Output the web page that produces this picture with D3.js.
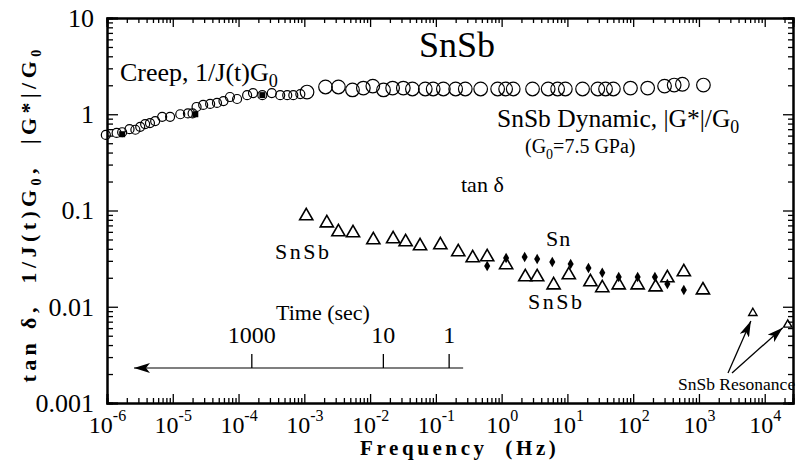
<!DOCTYPE html>
<html>
<head>
<meta charset="utf-8">
<script src="https://cdn.jsdelivr.net/npm/d3@7.9.0/dist/d3.min.js"></script>
<style>
  body { margin: 0; background: #fff; }
  svg text { font-family: "Liberation Serif", "Times New Roman", serif; fill: #000; }
</style>
</head>
<body>
<svg id="chart" width="797" height="462"></svg>
<script>
// creep data, 1/J(t)G0 (small open circles)
const creepFreq = [9.6e-7, 1.4e-6, 1.7e-6, 2.2e-6, 2.7e-6, 3.2e-6, 3.8e-6, 4.5e-6, 5.4e-6, 6.9e-6,
  9.1e-6, 1.3e-5, 1.7e-5, 2.0e-5, 2.3e-5, 2.9e-5, 3.7e-5, 4.7e-5, 5.9e-5, 7.4e-5,
  9.5e-5, 1.35e-4, 1.66e-4, 2.3e-4, 3.2e-4, 4.3e-4, 5.5e-4, 6.8e-4, 8.7e-4];
const creepVal = [0.61, 0.64, 0.65, 0.70, 0.69, 0.74, 0.79, 0.81, 0.85, 0.94,
  0.94, 1.00, 1.02, 1.02, 1.19, 1.25, 1.28, 1.31, 1.37, 1.51,
  1.44, 1.58, 1.66, 1.58, 1.66, 1.58, 1.58, 1.58, 1.62];
// second creep run (filled)
const creep2Freq = [1.7e-6, 2.2e-5, 2.3e-4];
const creep2Val = [0.62, 1.0, 1.58];

// dynamic |G*|/G0 (large open circles)
const dynFreq = [1.1e-3, 2.1e-3, 3.3e-3, 5.4e-3, 7.9e-3, 0.011, 0.016, 0.022, 0.032, 0.044,
  0.069, 0.091, 0.13, 0.20, 0.28, 0.48, 0.87, 1.15, 1.5, 2.95, 5.1, 7.1, 9.3, 17, 29, 38, 50, 91, 166,
  300, 420, 560, 1170];
const dynVal = [1.70, 1.92, 1.92, 1.79, 1.87, 1.96, 1.79, 1.87, 1.87, 1.83,
  1.83, 1.83, 1.83, 1.83, 1.83, 1.83, 1.83, 1.83, 1.83, 1.83, 1.83, 1.83, 1.83, 1.83, 1.83, 1.83, 1.83, 1.87, 1.87,
  1.96, 2.01, 2.05, 2.01];

// tan delta, SnSb (open triangles)
const tanSbFreq = [1.07e-3, 2.2e-3, 3.3e-3, 5.5e-3, 0.0112, 0.0224, 0.0347, 0.0575, 0.117, 0.219,
  0.363, 0.603, 1.17, 2.29, 3.47, 6.17, 10.5, 22.4, 33.9, 60.3, 117, 219, 331, 589, 1150];
const tanSbVal = [0.0877, 0.0741, 0.0598, 0.0584, 0.0494, 0.0506, 0.0471, 0.0428, 0.0438, 0.0371,
  0.0321, 0.0329, 0.0272, 0.0204, 0.0204, 0.0168, 0.0214, 0.0181, 0.0157, 0.0168, 0.0168, 0.016, 0.0199, 0.023, 0.0149];

// tan delta, Sn (filled diamonds)
const tanSnFreq = [0.603, 1.17, 2.24, 3.47, 5.89, 11.2, 20.9, 33.9, 60.3, 117, 214, 331, 589];
const tanSnVal = [0.0265, 0.0321, 0.0329, 0.0313, 0.0292, 0.0278, 0.0253, 0.0225, 0.0204, 0.0204, 0.0204, 0.0172, 0.0149];

// resonance points, SnSb
const resFreq = [6600, 22400];
const resVal = [0.0086, 0.0065];

// time axis (sec), drawn at f = 1/(2 pi t)
const timeTicks = [1000, 10, 1];

const xMajor = [1e-6, 1e-5, 1e-4, 1e-3, 1e-2, 1e-1, 1, 10, 100, 1000, 10000];
const yMajor = [0.001, 0.01, 0.1, 1, 10];
const yLabels = ["0.001", "0.01", "0.1", "1", "10"];

const W = 797, H = 462;
const m = { left: 107, right: 4, top: 18, bottom: 59 };
const svg = d3.select("#chart");

const x = d3.scaleLog().domain([1e-6, Math.pow(10, 4.43)]).range([m.left, W - m.right]);
const y = d3.scaleLog().domain([0.001, 10]).range([H - m.bottom, m.top]);

// minor tick values
function minors(lo, hi, domainMax) {
  const out = [];
  for (let e = lo; e <= hi; e++) {
    for (let k = 2; k <= 9; k++) {
      const v = k * Math.pow(10, e);
      if (v < domainMax) out.push(v);
    }
  }
  return out;
}
const xMinor = minors(-6, 4, x.domain()[1]);
const yMinor = minors(-3, 0, 10);

const gB = svg.append("g").attr("transform", `translate(0,${y.range()[0]})`);
const gT = svg.append("g").attr("transform", `translate(0,${m.top})`);
const gL = svg.append("g").attr("transform", `translate(${m.left},0)`);
const gR = svg.append("g").attr("transform", `translate(${x.range()[1]},0)`);

gB.call(d3.axisBottom(x).tickValues(xMinor).tickSize(-5).tickFormat(""));
const gBMaj = gB.append("g").call(d3.axisBottom(x).tickValues(xMajor).tickSize(-9).tickPadding(10).tickFormat(""));
gT.call(d3.axisTop(x).tickValues(xMinor).tickSize(-5).tickFormat(""));
gT.append("g").call(d3.axisTop(x).tickValues(xMajor).tickSize(-9).tickFormat(""));
gL.call(d3.axisLeft(y).tickValues(yMinor).tickSize(-6).tickFormat(""));
const gLMaj = gL.append("g").call(d3.axisLeft(y).tickValues(yMajor).tickSize(-11).tickPadding(13)
  .tickFormat((d, i) => yLabels[i]));
gR.call(d3.axisRight(y).tickValues(yMinor).tickSize(-5).tickFormat(""));
gR.append("g").call(d3.axisRight(y).tickValues(yMajor).tickSize(-10).tickFormat(""));

svg.selectAll(".domain").attr("stroke", "#000").attr("stroke-width", 2);
svg.selectAll(".tick line").attr("stroke", "#000").attr("stroke-width", 1.3);
gLMaj.selectAll(".tick text").attr("font-size", 26);

// x tick labels as powers of ten
gBMaj.selectAll(".tick").each(function(d) {
  const e = Math.round(Math.log10(d));
  const t = d3.select(this).select("text")
    .attr("font-size", 24).attr("dy", "0.85em").text("10");
  t.append("tspan").attr("font-size", 16).attr("dy", "-0.8em").text(e);
});

// axis titles
svg.append("text")
  .attr("x", 360).attr("y", 455)
  .attr("font-size", 21).attr("font-weight", "bold").attr("letter-spacing", 3.6)
  .attr("xml:space", "preserve").text("Frequency  (Hz)");

const yt = svg.append("text")
  .attr("transform", "translate(36,214) rotate(-90)")
  .attr("text-anchor", "middle").attr("font-size", 22).attr("font-weight", "bold")
  .attr("letter-spacing", 4.4).attr("xml:space", "preserve");
yt.append("tspan").text("tan δ,  1/J(t)G");
yt.append("tspan").attr("font-size", 14).attr("dy", 5).text("0");
yt.append("tspan").attr("dy", -5).text(",  |G*|/G");
yt.append("tspan").attr("font-size", 14).attr("dy", 5).text("0");

// data marks
const triangle = d3.symbol().type(d3.symbolTriangle);

svg.append("g").selectAll("circle").data(creepFreq).join("circle")
  .attr("cx", d => x(d)).attr("cy", (d, i) => y(creepVal[i])).attr("r", 4.5)
  .attr("fill", "none").attr("stroke", "#000").attr("stroke-width", 1.2);

svg.append("g").selectAll("rect").data(creep2Freq).join("rect")
  .attr("x", d => x(d) - 3).attr("y", (d, i) => y(creep2Val[i]) - 3)
  .attr("width", 6).attr("height", 6).attr("fill", "#000");

svg.append("g").selectAll("circle").data(dynFreq).join("circle")
  .attr("cx", d => x(d)).attr("cy", (d, i) => y(dynVal[i])).attr("r", 6.8)
  .attr("fill", "none").attr("stroke", "#000").attr("stroke-width", 1.2);

svg.append("g").selectAll("path").data(tanSbFreq).join("path")
  .attr("transform", (d, i) => `translate(${x(d)},${y(tanSbVal[i])})`)
  .attr("d", triangle.size(75)).attr("fill", "none").attr("stroke", "#000").attr("stroke-width", 1.6);

svg.append("g").selectAll("path").data(tanSnFreq).join("path")
  .attr("transform", (d, i) => `translate(${x(d)},${y(tanSnVal[i])})`)
  .attr("d", d3.symbol().type(d3.symbolDiamond).size(32)).attr("fill", "#000");

svg.append("g").selectAll("path").data(resFreq).join("path")
  .attr("transform", (d, i) => `translate(${x(d)},${y(resVal[i])})`)
  .attr("d", triangle.size(30)).attr("fill", "none").attr("stroke", "#000").attr("stroke-width", 1.4);

// arrowheads
const defs = svg.append("defs");
defs.append("marker").attr("id", "ah").attr("viewBox", "0 0 16 10").attr("refX", 16).attr("refY", 5)
  .attr("markerWidth", 16).attr("markerHeight", 10).attr("markerUnits", "userSpaceOnUse").attr("orient", "auto")
  .append("path").attr("d", "M0,0 L16,5 L0,10 L4,5 Z").attr("fill", "#000");

// time axis
const tY = 368;
svg.append("line").attr("x1", x(1 / (2 * Math.PI * 1)) + 14).attr("x2", 134)
  .attr("y1", tY).attr("y2", tY).attr("stroke", "#000").attr("stroke-width", 1.2)
  .attr("marker-end", "url(#ah)");
svg.append("g").selectAll("line").data(timeTicks).join("line")
  .attr("x1", d => x(1 / (2 * Math.PI * d))).attr("x2", d => x(1 / (2 * Math.PI * d)))
  .attr("y1", tY).attr("y2", tY - 14).attr("stroke", "#000").attr("stroke-width", 1.3);
svg.append("g").selectAll("text").data(timeTicks).join("text")
  .attr("x", d => x(1 / (2 * Math.PI * d))).attr("y", 343).attr("text-anchor", "middle")
  .attr("font-size", 24).text(d => d);
svg.append("text").attr("x", 276).attr("y", 320).attr("font-size", 22).text("Time (sec)");

// resonance arrows
const resTxtX = 728, resTxtY = 373;
svg.append("g").selectAll("line").data(resFreq).join("line")
  .attr("x1", (d, i) => resTxtX + i * 4).attr("y1", resTxtY)
  .attr("x2", (d, i) => x(d) - (i ? 5 : 2)).attr("y2", (d, i) => y(resVal[i]) + (i ? 3 : 8))
  .attr("stroke", "#000").attr("stroke-width", 1.3).attr("marker-end", "url(#ah)");

// annotations
function sub(sel, parts) {
  parts.forEach(p => {
    const ts = sel.append("tspan").text(p.t);
    if (p.sub) ts.attr("font-size", "0.7em").attr("dy", 6);
    if (p.up) ts.attr("dy", -6);
  });
}
svg.append("text").attr("x", 457).attr("y", 57).attr("text-anchor", "middle").attr("font-size", 36).text("SnSb");
sub(svg.append("text").attr("x", 120).attr("y", 81).attr("font-size", 26),
  [{ t: "Creep, 1/J(t)G" }, { t: "0", sub: true }]);
sub(svg.append("text").attr("x", 497).attr("y", 127).attr("font-size", 25.5),
  [{ t: "SnSb Dynamic, |G*|/G" }, { t: "0", sub: true }]);
sub(svg.append("text").attr("x", 525).attr("y", 153).attr("font-size", 20),
  [{ t: "(G" }, { t: "0", sub: true }, { t: "=7.5 GPa)", up: true }]);
svg.append("text").attr("x", 461).attr("y", 192).attr("font-size", 22).text("tan δ");
svg.append("text").attr("x", 546).attr("y", 246).attr("font-size", 22).attr("letter-spacing", 1).text("Sn");
svg.append("text").attr("x", 275).attr("y", 259).attr("font-size", 22).attr("letter-spacing", 2.5).text("SnSb");
svg.append("text").attr("x", 528).attr("y", 309).attr("font-size", 22).attr("letter-spacing", 2.5).text("SnSb");
svg.append("text").attr("x", 678).attr("y", 390).attr("font-size", 17.5).text("SnSb Resonance");
</script>
</body>
</html>
